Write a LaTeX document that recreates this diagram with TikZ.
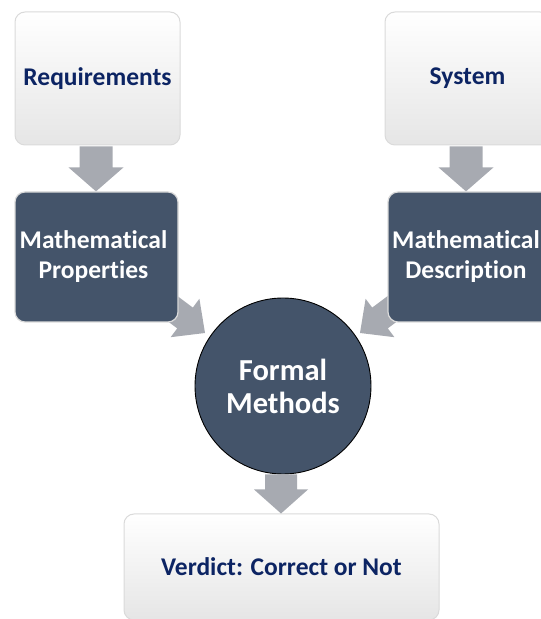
\documentclass[tikz,border=0pt]{standalone}
\usepackage{fontspec}
\setmainfont[Ligatures={NoCommon}]{Carlito}
\usetikzlibrary{calc}
\definecolor{slate}{HTML}{44546A}
\definecolor{navy}{HTML}{0C2463}
\definecolor{arrowgray}{HTML}{A7AAB1}
\definecolor{edgegray}{HTML}{DADADA}
\newcommand\blockarrow[5]{%
  \coordinate (ba-h) at ($(#2)!#5!(#1)$);
  \fill[arrowgray] ($(#1)!#3!90:(#2)$) -- ($(ba-h)!#3!-90:(#1)$) -- ($(ba-h)!#4!-90:(#1)$) -- (#2)
    -- ($(ba-h)!#4!90:(#1)$) -- ($(ba-h)!#3!90:(#1)$) -- ($(#1)!#3!-90:(#2)$) -- cycle;}
\tikzset{
  lightbox/.style={rectangle, rounded corners=10pt, draw=edgegray, line width=1pt,
    top color=white, middle color=white, bottom color=black!10,
    font=\bfseries\fontsize{25.5}{30}\selectfont, text=navy, align=center, inner sep=0pt},
  darkbox/.style={rectangle, rounded corners=10pt, draw=edgegray, line width=1.2pt,
    fill=slate, font=\bfseries\fontsize{25.5}{30}\selectfont, text=white, align=center, inner sep=0pt},
  darktext/.style={font=\bfseries\fontsize{25.5}{30}\selectfont, text=white, align=center, inner sep=0pt},
  bigcircle/.style={circle, draw=black, line width=0.9pt, fill=slate, text=white,
    font=\bfseries\fontsize{30.5}{33}\selectfont, align=center, inner sep=0pt}
}
\begin{document}
\begin{tikzpicture}[x=1pt,y=1pt]
\useasboundingbox (0,0) rectangle (541,619);
\begin{scope}
\clip (0,0) rectangle (541,619);
% top boxes
\node[lightbox, minimum width=165pt, minimum height=133pt] (req) at (97.5,540.5) {Requirements};
\node[lightbox, minimum width=165pt, minimum height=133pt] (sys) at (467.5,540.5) {System};
% diagonal arrows (drawn behind the dark boxes)
\coordinate (a4s) at (157,322);
\coordinate (a4t) at (205,286);
\coordinate (a5s) at (408,322);
\coordinate (a5t) at (360,286);
\blockarrow{a4s}{a4t}{13pt}{24pt}{25pt}
\blockarrow{a5s}{a5t}{13pt}{24pt}{25pt}
% dark boxes
\node[darkbox, minimum width=163pt, minimum height=130pt] (mp) at (96.5,362) {};
\node[darktext] (mpt) at (93.5,362) {Mathematical\\Properties};
\node[darkbox, minimum width=165pt, minimum height=130pt] (md) at (470.5,362) {};
\node[darktext] (mdt) at (466,362) {Mathematical\\Description};
% circle
\node[bigcircle, minimum size=176pt] (fm) at (283,233) {Formal\\Methods};
% verdict
\node[lightbox, minimum width=315pt, minimum height=106pt] (ver) at (281.5,52) {Verdict: Correct or Not};
% vertical arrows
\coordinate (a1s) at ($(req.south)+(-1.5,-1)$);
\coordinate (a1t) at ($(mp.north)+(-0.5,0)$);
\coordinate (a2s) at ($(sys.south)+(-1.5,-1)$);
\coordinate (a2t) at ($(md.north)+(-4.5,0)$);
\coordinate (a3s) at ($(fm.south)+(-2,0)$);
\coordinate (a3t) at ($(ver.north)+(-0.5,0)$);
\blockarrow{a1s}{a1t}{16.5pt}{27.5pt}{24pt}
\blockarrow{a2s}{a2t}{16.5pt}{27.5pt}{24pt}
\blockarrow{a3s}{a3t}{16pt}{27pt}{24pt}
\end{scope}
\end{tikzpicture}
\end{document}
